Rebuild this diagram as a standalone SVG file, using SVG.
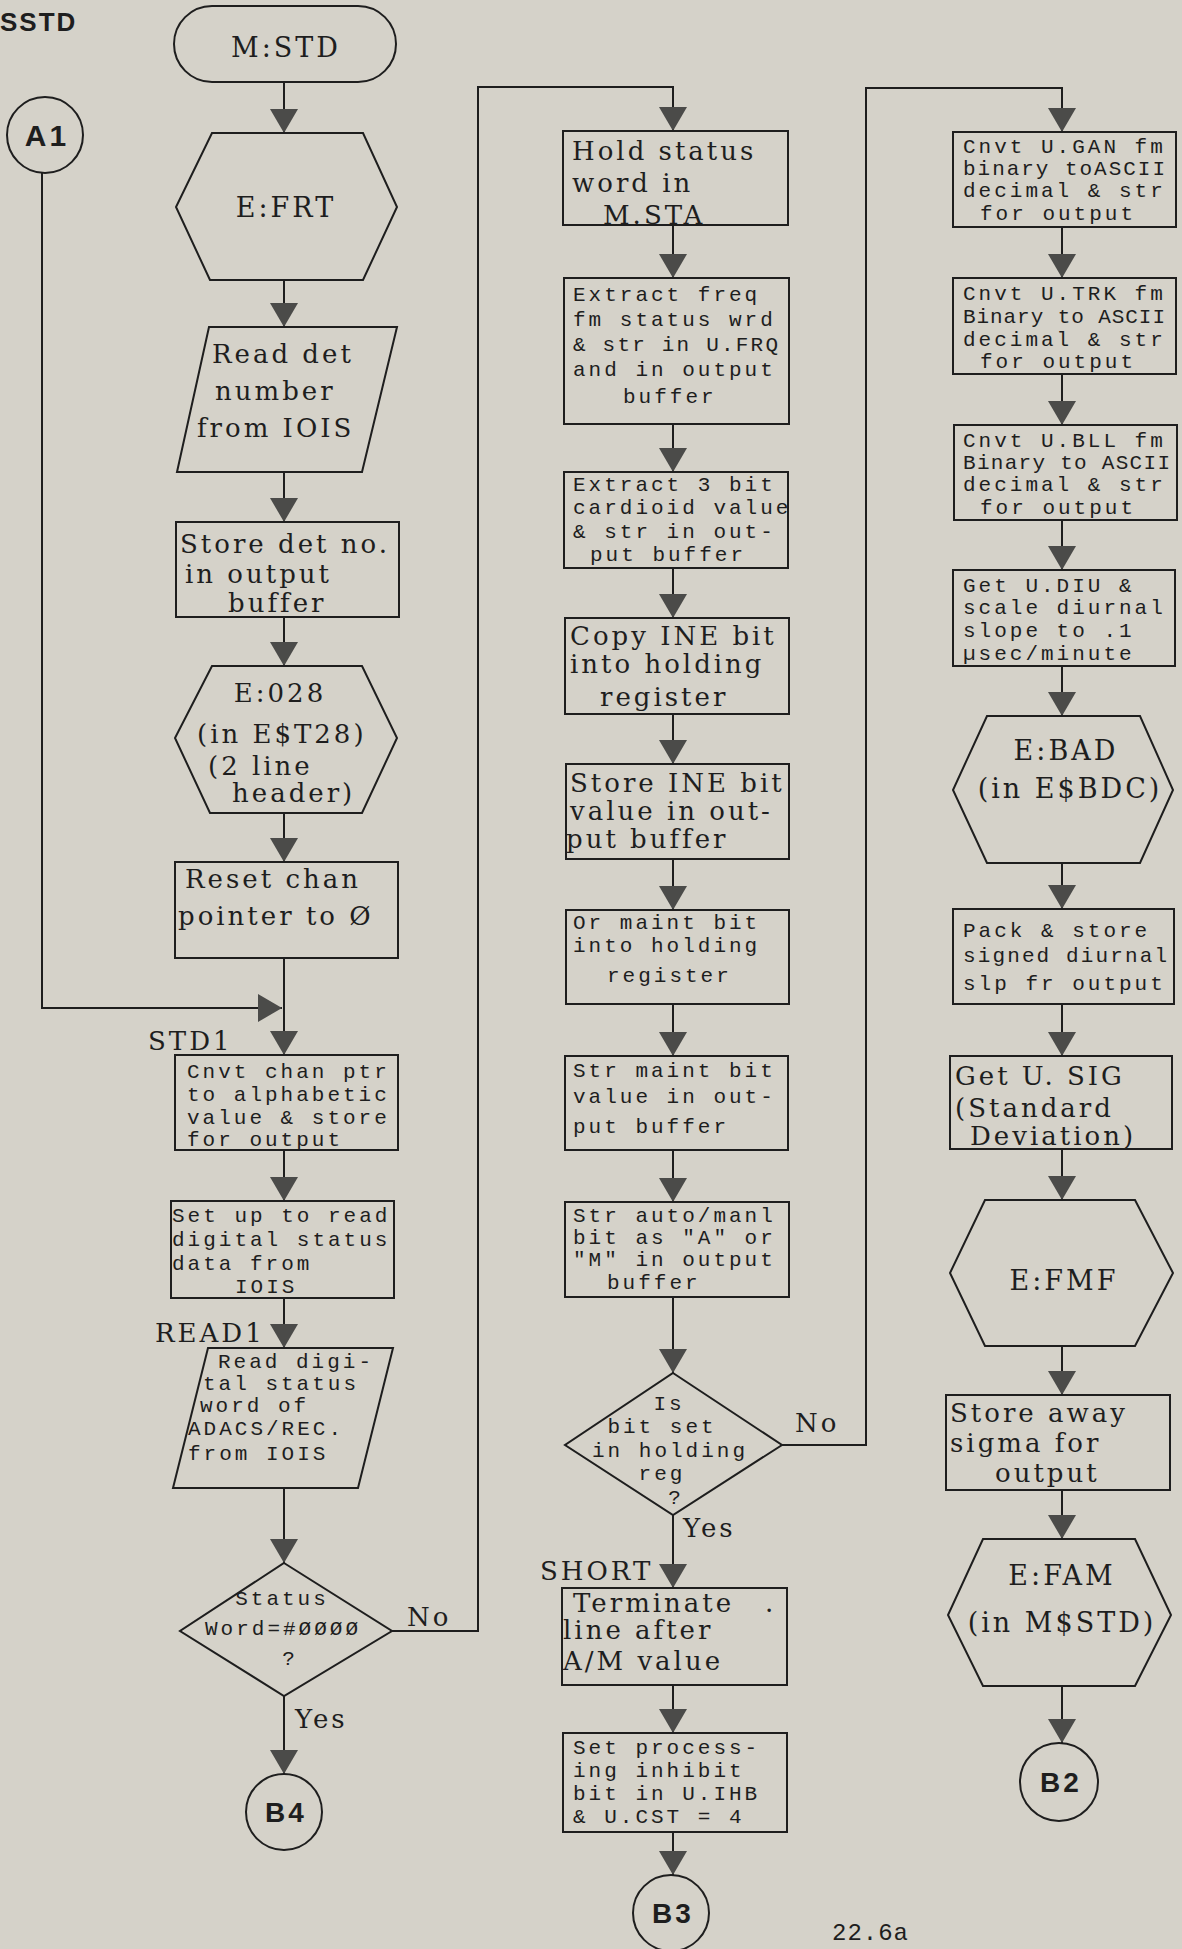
<svg xmlns="http://www.w3.org/2000/svg" width="1182" height="1949" viewBox="0 0 1182 1949">
<style>
.bg{fill:#d5d2c9}
.n{fill:none;stroke:#1e1e1e;stroke-width:2}
.c{fill:none;stroke:#1e1e1e;stroke-width:2}
.sf{font-family:"DejaVu Serif","Liberation Serif",serif;font-size:26px;letter-spacing:3px;fill:#1e1e1e}
.sfl{font-family:"DejaVu Serif","Liberation Serif",serif;font-size:27px;letter-spacing:3px;fill:#1e1e1e}
.mo{font-family:"Liberation Mono","DejaVu Sans Mono",monospace;font-size:21px;letter-spacing:3px;fill:#1e1e1e}
.cb{font-family:"Liberation Sans","DejaVu Sans",sans-serif;font-weight:bold;font-size:28px;letter-spacing:3px;fill:#1e1e1e}
.mid{text-anchor:middle}
</style>
<defs>
<marker id="ah" markerUnits="userSpaceOnUse" markerWidth="24" markerHeight="28" viewBox="0 0 24 28" refX="24" refY="14" orient="auto">
<path d="M0,0 L24,14 L0,28 z" fill="#4b4b49"/>
</marker>
</defs>
<rect class="bg" x="0" y="0" width="1182" height="1949"/>
<text class="cb" x="0" y="31" style="font-size:26px;letter-spacing:2px">SSTD</text>

<g id="connectors">
<polyline class="c" points="284,82 284,133" marker-end="url(#ah)"/>
<polyline class="c" points="284,280 284,327" marker-end="url(#ah)"/>
<polyline class="c" points="284,472 284,522" marker-end="url(#ah)"/>
<polyline class="c" points="284,617 284,666" marker-end="url(#ah)"/>
<polyline class="c" points="284,813 284,862" marker-end="url(#ah)"/>
<polyline class="c" points="284,958 284,1055" marker-end="url(#ah)"/>
<polyline class="c" points="42,173 42,1008 282,1008" marker-end="url(#ah)"/>
<polyline class="c" points="284,1150 284,1201" marker-end="url(#ah)"/>
<polyline class="c" points="284,1298 284,1348" marker-end="url(#ah)"/>
<polyline class="c" points="284,1488 284,1563" marker-end="url(#ah)"/>
<polyline class="c" points="284,1696 284,1774" marker-end="url(#ah)"/>
<polyline class="c" points="392,1631 478,1631 478,87 673,87 673,131" marker-end="url(#ah)"/>
<polyline class="c" points="673,225 673,278" marker-end="url(#ah)"/>
<polyline class="c" points="673,424 673,472" marker-end="url(#ah)"/>
<polyline class="c" points="673,568 673,618" marker-end="url(#ah)"/>
<polyline class="c" points="673,714 673,764" marker-end="url(#ah)"/>
<polyline class="c" points="673,859 673,910" marker-end="url(#ah)"/>
<polyline class="c" points="673,1004 673,1056" marker-end="url(#ah)"/>
<polyline class="c" points="673,1150 673,1202" marker-end="url(#ah)"/>
<polyline class="c" points="673,1297 673,1373" marker-end="url(#ah)"/>
<polyline class="c" points="673,1515 673,1588" marker-end="url(#ah)"/>
<polyline class="c" points="673,1685 673,1733" marker-end="url(#ah)"/>
<polyline class="c" points="673,1832 673,1875" marker-end="url(#ah)"/>
<polyline class="c" points="782,1445 866,1445 866,88 1062,88 1062,132" marker-end="url(#ah)"/>
<polyline class="c" points="1062,227 1062,278" marker-end="url(#ah)"/>
<polyline class="c" points="1062,374 1062,425" marker-end="url(#ah)"/>
<polyline class="c" points="1062,520 1062,570" marker-end="url(#ah)"/>
<polyline class="c" points="1062,666 1062,716" marker-end="url(#ah)"/>
<polyline class="c" points="1062,863 1062,909" marker-end="url(#ah)"/>
<polyline class="c" points="1062,1004 1062,1056" marker-end="url(#ah)"/>
<polyline class="c" points="1062,1149 1062,1200" marker-end="url(#ah)"/>
<polyline class="c" points="1062,1346 1062,1395" marker-end="url(#ah)"/>
<polyline class="c" points="1062,1490 1062,1539" marker-end="url(#ah)"/>
<polyline class="c" points="1062,1686 1062,1743" marker-end="url(#ah)"/>
<text class="sf" x="407" y="1626">No</text>
<text class="sf" x="295" y="1728">Yes</text>
<text class="sf" x="795" y="1432">No</text>
<text class="sf" x="683" y="1537">Yes</text>
<text class="sf" x="148" y="1050">STD1</text>
<text class="sf" x="155" y="1342">READ1</text>
<text class="sf" x="540" y="1580">SHORT</text>
</g>

<g id="A1"><circle class="n" cx="45" cy="135" r="38"/><text class="cb mid" x="47" y="146" style="font-size:30px">A1</text></g>
<g id="M_STD"><rect class="n" x="174" y="6" width="222" height="76" rx="38"/><text class="sfl mid" x="286" y="57">M:STD</text></g>
<g id="E_FRT"><polygon class="n" points="212,133 363,133 397,207 363,280 210,280 176,207"/><text class="sfl mid" x="286" y="217">E:FRT</text></g>
<g id="read_det"><polygon class="n" points="209,327 397,327 362,472 177,472"/>
<text class="sf" x="212" y="363">Read det</text><text class="sf" x="215" y="400">number</text><text class="sf" x="197" y="437">from IOIS</text></g>
<g id="store_det"><rect class="n" x="176" y="522" width="223" height="95"/>
<text class="sf" x="180" y="553">Store det no.</text><text class="sf" x="185" y="583">in output</text><text class="sf" x="228" y="612">buffer</text></g>
<g id="E_028"><polygon class="n" points="212,666 362,666 397,738 362,813 210,813 175,738"/>
<text class="sf mid" x="280" y="702">E:028</text><text class="sf" x="197" y="743">(in E$T28)</text><text class="sf" x="208" y="775">(2 line</text><text class="sf" x="232" y="802">header)</text></g>
<g id="reset_chan"><rect class="n" x="175" y="862" width="223" height="96"/>
<text class="sf" x="185" y="888">Reset chan</text><text class="sf" x="178" y="925">pointer to Ø</text></g>
<g id="cnvt_chan"><rect class="n" x="175" y="1055" width="223" height="95"/>
<text class="mo" x="187" y="1078">Cnvt chan ptr</text><text class="mo" x="187" y="1101">to alphabetic</text><text class="mo" x="187" y="1124">value &amp; store</text><text class="mo" x="187" y="1146">for output</text></g>
<g id="set_up"><rect class="n" x="171" y="1201" width="223" height="97"/>
<text class="mo" x="172" y="1222">Set up to read</text><text class="mo" x="172" y="1246">digital status</text><text class="mo" x="172" y="1270">data from</text><text class="mo" x="235" y="1293">IOIS</text></g>
<g id="read_digital"><polygon class="n" points="208,1348 393,1348 358,1488 173,1488"/>
<text class="mo" x="218" y="1368">Read digi-</text><text class="mo" x="203" y="1390">tal status</text><text class="mo" x="200" y="1412">word of</text><text class="mo" x="188" y="1435">ADACS/REC.</text><text class="mo" x="188" y="1460">from IOIS</text></g>
<g id="status_word"><polygon class="n" points="284,1563 392,1631 284,1696 180,1631"/>
<text class="mo mid" x="282" y="1605">Status</text><text class="mo mid" x="283" y="1635">Word=#ØØØØ</text><text class="mo mid" x="290" y="1665">?</text></g>
<g id="B4"><circle class="n" cx="284" cy="1812" r="38"/><text class="cb mid" x="286" y="1822">B4</text></g>

<g id="hold_status"><rect class="n" x="563" y="131" width="225" height="94"/>
<text class="sf" x="572" y="160">Hold status</text><text class="sf" x="572" y="192">word in</text><text class="sf" x="603" y="224">M.STA</text></g>
<g id="extract_freq"><rect class="n" x="564" y="278" width="225" height="146"/>
<text class="mo" x="573" y="301">Extract freq</text><text class="mo" x="573" y="326">fm status wrd</text><text class="mo" x="573" y="351" textLength="208">&amp; str in U.FRQ</text><text class="mo" x="573" y="376">and in output</text><text class="mo" x="623" y="403">buffer</text></g>
<g id="extract_3bit"><rect class="n" x="564" y="472" width="224" height="96"/>
<text class="mo" x="573" y="491">Extract 3 bit</text><text class="mo" x="573" y="514">cardioid value</text><text class="mo" x="573" y="538">&amp; str in out-</text><text class="mo" x="590" y="561">put buffer</text></g>
<g id="copy_ine"><rect class="n" x="565" y="618" width="224" height="96"/>
<text class="sf" x="570" y="645">Copy INE bit</text><text class="sf" x="570" y="673">into holding</text><text class="sf" x="600" y="706">register</text></g>
<g id="store_ine"><rect class="n" x="566" y="764" width="223" height="95"/>
<text class="sf" x="570" y="792">Store INE bit</text><text class="sf" x="570" y="820">value in out-</text><text class="sf" x="566" y="848">put buffer</text></g>
<g id="or_maint"><rect class="n" x="566" y="910" width="223" height="94"/>
<text class="mo" x="573" y="929">Or maint bit</text><text class="mo" x="573" y="952">into holding</text><text class="mo" x="607" y="982">register</text></g>
<g id="str_maint"><rect class="n" x="565" y="1056" width="223" height="94"/>
<text class="mo" x="573" y="1077">Str maint bit</text><text class="mo" x="573" y="1103">value in out-</text><text class="mo" x="573" y="1133">put buffer</text></g>
<g id="str_auto"><rect class="n" x="565" y="1202" width="224" height="95"/>
<text class="mo" x="573" y="1222">Str auto/manl</text><text class="mo" x="573" y="1244">bit as "A" or</text><text class="mo" x="573" y="1266">"M" in output</text><text class="mo" x="607" y="1289">buffer</text></g>
<g id="bit_set"><polygon class="n" points="673,1373 782,1445 673,1515 565,1445"/>
<text class="mo mid" x="669" y="1410">Is</text><text class="mo mid" x="662" y="1433">bit set</text><text class="mo mid" x="670" y="1457">in holding</text><text class="mo mid" x="662" y="1480">reg</text><text class="mo mid" x="676" y="1504">?</text></g>
<g id="terminate"><rect class="n" x="562" y="1588" width="225" height="97"/>
<text class="sf" x="573" y="1612">Terminate</text><text class="sf" x="765" y="1612">.</text><text class="sf" x="563" y="1639">line after</text><text class="sf" x="563" y="1670">A/M value</text></g>
<g id="set_processing"><rect class="n" x="563" y="1733" width="224" height="99"/>
<text class="mo" x="573" y="1754">Set process-</text><text class="mo" x="573" y="1777">ing inhibit</text><text class="mo" x="573" y="1800">bit in U.IHB</text><text class="mo" x="573" y="1823">&amp; U.CST = 4</text></g>
<g id="B3"><circle class="n" cx="671" cy="1913" r="38"/><text class="cb mid" x="673" y="1923">B3</text></g>

<g id="cnvt_gan"><rect class="n" x="953" y="132" width="223" height="95"/>
<text class="mo" x="963" y="153">Cnvt U.GAN fm</text><text class="mo" x="963" y="175" textLength="205">binary toASCII</text><text class="mo" x="963" y="197">decimal &amp; str</text><text class="mo" x="980" y="220">for output</text></g>
<g id="cnvt_trk"><rect class="n" x="953" y="278" width="223" height="96"/>
<text class="mo" x="963" y="300">Cnvt U.TRK fm</text><text class="mo" x="963" y="323" textLength="205">Binary to ASCII</text><text class="mo" x="963" y="346">decimal &amp; str</text><text class="mo" x="980" y="368">for output</text></g>
<g id="cnvt_bll"><rect class="n" x="954" y="425" width="223" height="95"/>
<text class="mo" x="963" y="447">Cnvt U.BLL fm</text><text class="mo" x="963" y="469" textLength="210">Binary to ASCII</text><text class="mo" x="963" y="491">decimal &amp; str</text><text class="mo" x="980" y="514">for output</text></g>
<g id="get_diu"><rect class="n" x="953" y="570" width="222" height="96"/>
<text class="mo" x="963" y="592">Get U.DIU &amp;</text><text class="mo" x="963" y="614">scale diurnal</text><text class="mo" x="963" y="637">slope to .1</text><text class="mo" x="963" y="660">µsec/minute</text></g>
<g id="E_BAD"><polygon class="n" points="987,716 1140,716 1173,790 1140,863 987,863 953,790"/>
<text class="sfl mid" x="1066" y="760">E:BAD</text><text class="sfl mid" x="1070" y="798">(in E$BDC)</text></g>
<g id="pack_store"><rect class="n" x="953" y="909" width="221" height="95"/>
<text class="mo" x="963" y="937">Pack &amp; store</text><text class="mo" x="963" y="962" textLength="207">signed diurnal</text><text class="mo" x="963" y="990">slp fr output</text></g>
<g id="get_sig"><rect class="n" x="950" y="1056" width="222" height="93"/>
<text class="sf" x="955" y="1085">Get U. SIG</text><text class="sf" x="955" y="1117">(Standard</text><text class="sf" x="970" y="1145">Deviation)</text></g>
<g id="E_FMF"><polygon class="n" points="985,1200 1135,1200 1173,1273 1135,1346 985,1346 950,1273"/>
<text class="sfl mid" x="1064" y="1290">E:FMF</text></g>
<g id="store_away"><rect class="n" x="946" y="1395" width="224" height="95"/>
<text class="sf" x="950" y="1422">Store away</text><text class="sf" x="950" y="1452">sigma for</text><text class="sf" x="995" y="1482">output</text></g>
<g id="E_FAM"><polygon class="n" points="983,1539 1135,1539 1171,1615 1135,1686 983,1686 948,1615"/>
<text class="sfl mid" x="1062" y="1585">E:FAM</text><text class="sfl mid" x="1062" y="1632">(in M$STD)</text></g>
<g id="B2"><circle class="n" cx="1059" cy="1782" r="39"/><text class="cb mid" x="1061" y="1792">B2</text></g>

<text class="mo" x="832" y="1940" style="font-size:24px;letter-spacing:1px">22.6a</text>
</svg>
